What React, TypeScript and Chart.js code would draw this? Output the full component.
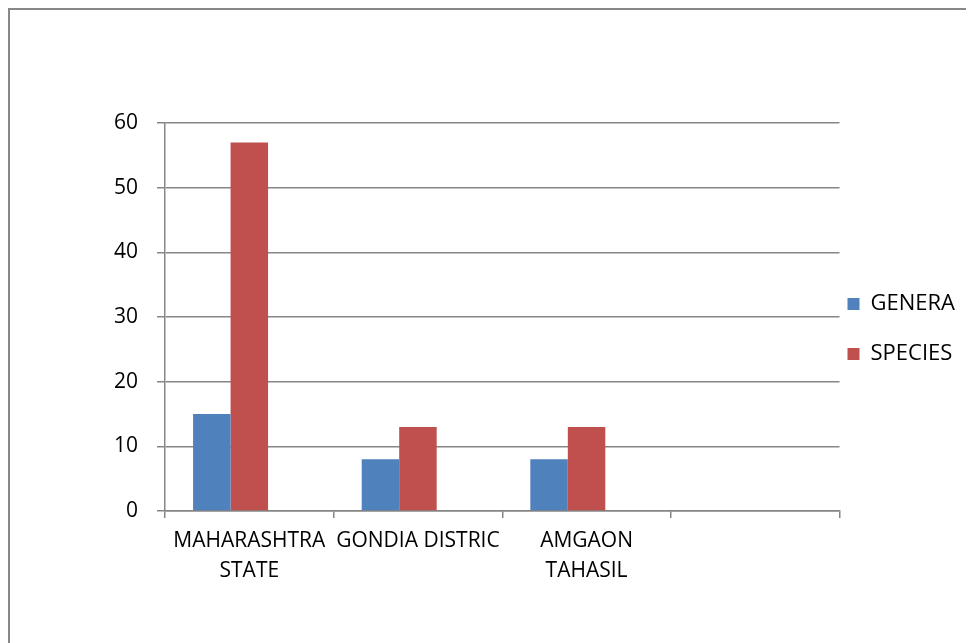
import React, { useEffect, useRef } from "react";
import { Chart, registerables } from "chart.js";

Chart.register(...registerables);

const categories: (string | string[])[] = [
  ["MAHARASHTRA", "STATE"],
  "GONDIA DISTRIC",
  ["AMGAON", "TAHASIL"],
  "",
];
const generaValues: (number | null)[] = [15, 8, 8, null];
const speciesValues: (number | null)[] = [57, 13, 13, null];
const emptySeries: (number | null)[] = [null, null, null, null];
const seriesNames = ["GENERA", "SPECIES"];
const yTicks = [0, 10, 20, 30, 40, 50, 60];

const BLUE = "#4F81BD";
const RED = "#C0504D";
const GRID = "#868686";
const FONT = "'Open Sans', Lato, sans-serif";

export default function App() {
  const ref = useRef<HTMLCanvasElement | null>(null);

  useEffect(() => {
    document.documentElement.style.overflow = "hidden";
    const canvas = ref.current;
    if (!canvas) return;
    const chart = new Chart(canvas, {
      type: "bar",
      data: {
        labels: categories,
        datasets: [
          { label: seriesNames[0], data: generaValues, backgroundColor: BLUE, borderWidth: 0 },
          { label: seriesNames[1], data: speciesValues, backgroundColor: RED, borderWidth: 0 },
          { label: "", data: emptySeries, backgroundColor: "rgba(0,0,0,0)", borderWidth: 0 },
        ],
      },
      options: {
        responsive: false,
        animation: false,
        layout: { padding: { top: 113, bottom: 49, left: 0, right: 9 } },
        datasets: { bar: { categoryPercentage: 0.667, barPercentage: 1 } },
        scales: {
          x: {
            grid: {
              display: true,
              drawOnChartArea: false,
              drawTicks: true,
              tickLength: 7,
              color: GRID,
              lineWidth: 1.5,
              offset: true,
            },
            border: { display: true, color: GRID, width: 1.5 },
            ticks: {
              color: "#000",
              padding: 8,
              maxRotation: 0,
              autoSkip: false,
              font: { family: FONT, size: 21, lineHeight: 1.4286 },
            },
          },
          y: {
            min: 0,
            max: 60,
            afterFit: (scale: any) => {
              scale.width = 155;
            },
            afterBuildTicks: (scale: any) => {
              scale.ticks = yTicks.map((v) => ({ value: v }));
            },
            grid: {
              color: GRID,
              lineWidth: 1.5,
              drawTicks: true,
              tickLength: 8,
            },
            border: { display: true, color: GRID, width: 1.5 },
            ticks: {
              color: "#000",
              padding: 19,
              font: { family: FONT, size: 21 },
            },
          },
        },
        plugins: {
          tooltip: { enabled: false },
          legend: {
            display: true,
            position: "right",
            align: "start",
            fullSize: true,
            title: {
              display: true,
              text: "",
              font: { size: 12, lineHeight: 1 },
              padding: { top: 150, bottom: 0 },
            },
            labels: {
              color: "#000",
              boxWidth: 12,
              boxHeight: 12,
              padding: 8,
              font: { family: FONT, size: 22, lineHeight: 1.91 },
              filter: (item: any) => item.datasetIndex < 2,
              generateLabels: (chart: any) => {
                const items = Chart.defaults.plugins.legend.labels.generateLabels(chart);
                return items.map((it: any) => ({ ...it, text: [it.text], lineWidth: 0 }));
              },
            },
          },
        },
      },
    } as any);
    return () => chart.destroy();
  }, []);

  return (
    <div
      style={{
        width: 966,
        height: 635,
        boxSizing: "border-box",
        borderLeft: "2px solid #878787",
        borderTop: "2px solid #878787",
        background: "#fff",
      }}
    >
      <canvas ref={ref} width={964} height={633} style={{ display: "block" }} />
    </div>
  );
}
